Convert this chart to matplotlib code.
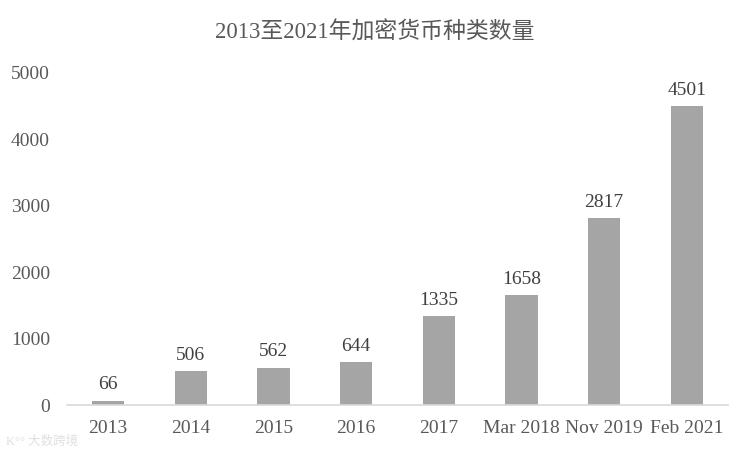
import matplotlib
matplotlib.use('Agg')
import matplotlib.pyplot as plt

plt.rcParams['font.family'] = ['Liberation Serif', 'Noto Sans CJK SC']

# data
categories = ['2013', '2014', '2015', '2016', '2017', 'Mar 2018', 'Nov 2019', 'Feb 2021']
counts = [66, 506, 562, 644, 1335, 1658, 2817, 4501]
title = '2013至2021年加密货币种类数量'

txt = '#595959'
fig = plt.figure(figsize=(7.5, 4.5), dpi=100)
ax = fig.add_axes([0.089, 0.1, 0.882, 0.738])

x = range(len(categories))
bars = ax.bar(x, counts, width=0.39, color='#a5a5a5')
for i, v in enumerate(counts):
    ax.text(i, v + 110, str(v), ha='center', va='bottom', fontsize=14, color='#404040')

ax.set_xlim(-0.5, len(categories) - 0.5)
ax.set_ylim(0, 5000)
ax.set_yticks([0, 1000, 2000, 3000, 4000, 5000])
ax.set_xticks(list(x))
ax.set_xticklabels(categories)
ax.tick_params(axis='both', length=0, labelsize=14, colors=txt)
ax.tick_params(axis='y', pad=12)
ax.tick_params(axis='x', pad=11)
for s in ['top', 'right', 'left']:
    ax.spines[s].set_visible(False)
ax.spines['bottom'].set_color('#d9d9d9')
ax.spines['bottom'].set_linewidth(1.2)

fig.text(0.5, 0.927, title, ha='center', va='center', fontsize=16.5, color=txt)

# faint watermark, kept clear of the first tick label
fig.text(0.008, 0.018, 'K°° 大数跨境', fontsize=9, color='#e0e0e0', ha='left', va='center')

fig.savefig('out.png', dpi=100)
